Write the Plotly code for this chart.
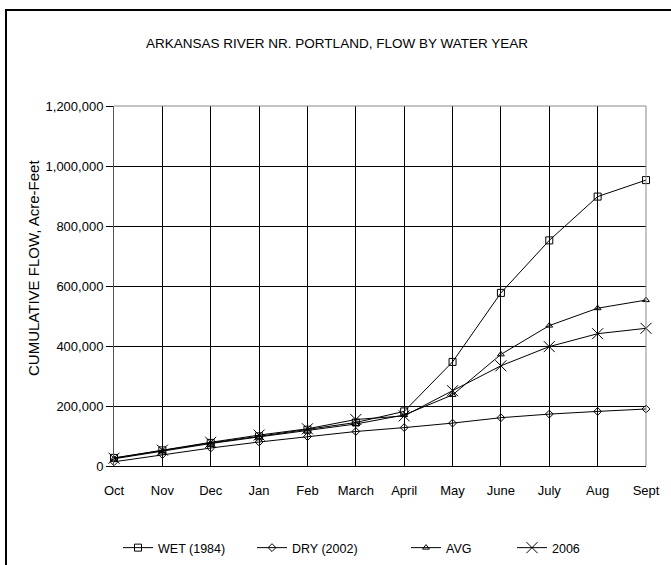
import plotly.graph_objects as go

months = ["Oct", "Nov", "Dec", "Jan", "Feb", "March", "April", "May", "June", "July", "Aug", "Sept"]
wet_1984 = [27000, 52000, 77000, 99000, 121000, 145000, 182000, 347000, 577000, 752000, 898000, 953000]
dry_2002 = [14000, 38000, 60000, 80000, 98000, 115000, 128000, 143000, 161000, 173000, 182000, 190000]
avg = [24000, 50000, 75000, 97000, 118000, 140000, 170000, 237000, 372000, 468000, 526000, 553000]
y2006 = [26000, 53000, 79000, 103000, 124000, 155000, 167000, 251000, 334000, 398000, 441000, 459000]

W, H = 671, 565
L, R, T, B = 114, 25, 106, 99
pw, ph = W - L - R, H - T - B

def px(x):
    return (x - L) / pw

def py(y):
    return (H - B - y) / ph

FONT = "Liberation Sans, Arial, sans-serif"

series = [
    ("WET (1984)", wet_1984, "square-open", 7, "legend", 158),
    ("DRY (2002)", dry_2002, "diamond-open", 6, "legend2", 292),
    ("AVG", avg, "triangle-up-open", 6, "legend3", 446),
    ("2006", y2006, "x-thin-open", 11, "legend4", 552),
]

fig = go.Figure()
for name, vals, sym, size, lg, _ in series:
    fig.add_trace(go.Scatter(
        x=months, y=vals, name=name, mode="lines+markers",
        line=dict(color="black", width=1),
        marker=dict(symbol=sym, size=size, color="black",
                    line=dict(color="black", width=1)),
        cliponaxis=False, legend=lg,
    ))

legend_common = dict(orientation="h", yanchor="middle", xanchor="left",
                     xref="container", yref="container",
                     font=dict(family=FONT, size=12.5, color="black"),
                     bgcolor="rgba(0,0,0,0)", borderwidth=0, itemwidth=30)
layout_legends = {}
for name, vals, sym, size, lg, tx in series:
    layout_legends[lg] = dict(legend_common, x=(tx - 40) / W, y=1 - 548 / H)

fig.update_layout(
    width=W, height=H,
    margin=dict(l=L, r=R, t=T, b=B, autoexpand=False),
    paper_bgcolor="white", plot_bgcolor="white",
    showlegend=True,
    title=dict(text="ARKANSAS RIVER NR. PORTLAND, FLOW BY WATER YEAR",
               x=337 / W, xanchor="center", y=1 - 43 / H, yanchor="middle",
               xref="container", yref="container",
               font=dict(family=FONT, size=13.5, color="black")),
    xaxis=dict(type="category", range=[0, 11], showgrid=True,
               gridcolor="black", gridwidth=1, showline=True, linecolor="black",
               linewidth=1, ticks="", zeroline=False, ticklabelstandoff=12,
               tickfont=dict(family=FONT, size=13, color="black")),
    yaxis=dict(range=[0, 1200000], dtick=200000, tickformat=",d",
               showgrid=True, gridcolor="black", gridwidth=1,
               showline=True, linecolor="#555555", linewidth=1,
               ticks="outside", ticklen=7, tickcolor="black",
               zeroline=False,
               tickfont=dict(family=FONT, size=13, color="black")),
    annotations=[dict(text="CUMULATIVE FLOW, Acre-Feet", textangle=-90,
                      x=px(33), y=py(268), xref="paper", yref="paper",
                      xanchor="center", yanchor="middle", showarrow=False,
                      font=dict(family=FONT, size=15, color="black"))],
    shapes=[
        dict(type="line", xref="paper", yref="paper", x0=0, x1=1, y0=1, y1=1,
             line=dict(color="#888888", width=1)),
        dict(type="line", xref="paper", yref="paper", x0=1, x1=1, y0=0, y1=1,
             line=dict(color="#888888", width=1)),
        dict(type="line", xref="paper", yref="paper", x0=px(6), x1=px(6),
             y0=py(9), y1=py(H + 5), line=dict(color="black", width=2)),
        dict(type="line", xref="paper", yref="paper", x0=px(5), x1=px(W + 5),
             y0=py(10), y1=py(10), line=dict(color="black", width=2)),
    ],
    **layout_legends,
)

fig.write_html("out.html", config={"displayModeBar": False},
               post_script="document.body.style.margin='0';document.body.style.overflow='hidden';")
